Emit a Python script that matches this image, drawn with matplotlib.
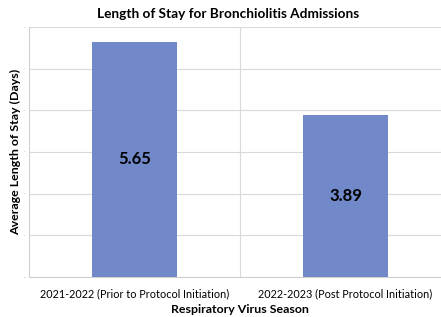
import matplotlib
matplotlib.use("Agg")
import matplotlib.pyplot as plt

categories = ["2021-2022 (Prior to Protocol Initiation)", "2022-2023 (Post Protocol Initiation)"]
values = [5.65, 3.89]
yticks = [0, 1, 2, 3, 4, 5, 6]

plt.rcParams['font.family'] = ['Lato', 'DejaVu Sans']

fig = plt.figure(figsize=(4.41, 3.17), dpi=100)
ax = fig.add_axes([29/441, 1-277/317, 422/441, 250/317])

x = list(range(len(categories)))
bars = ax.bar(x, values, width=0.40, color="#7189c9", zorder=3)
for xi, v in zip(x, values):
    ax.text(xi, v/2, f"{v:.2f}", ha="center", va="center", fontsize=12, fontweight="bold", color="black", zorder=4)

ax.set_xlim(-0.5, 1.5)
ax.set_ylim(0, 6)
ax.set_yticks(yticks)
ax.set_yticklabels([str(t) for t in yticks], fontsize=1.5, color="#999999")
ax.yaxis.grid(True, color="#d9d9d9", linewidth=0.8, zorder=0)
ax.axvline(0.5, color="#d9d9d9", linewidth=0.8, zorder=0)
ax.set_xticks(x)
ax.set_xticklabels(categories, fontsize=7.8)
ax.tick_params(axis="x", length=0, pad=8)
ax.tick_params(axis="y", length=0, pad=3)
for s in ["top", "right"]:
    ax.spines[s].set_visible(False)
for s in ["left", "bottom"]:
    ax.spines[s].set_color("#d0d0d0")
    ax.spines[s].set_linewidth(0.8)

ax.set_xlabel("Respiratory Virus Season", fontsize=8.9, fontweight="bold", labelpad=3.5)
ax.set_ylabel("Average Length of Stay (Days)", fontsize=8.9, fontweight="bold", labelpad=2)
fig.text(228/441, 1-14/317, "Length of Stay for Bronchiolitis Admissions", ha="center", va="center", fontsize=9.8, fontweight="bold")

fig.savefig("out.png", dpi=100)
